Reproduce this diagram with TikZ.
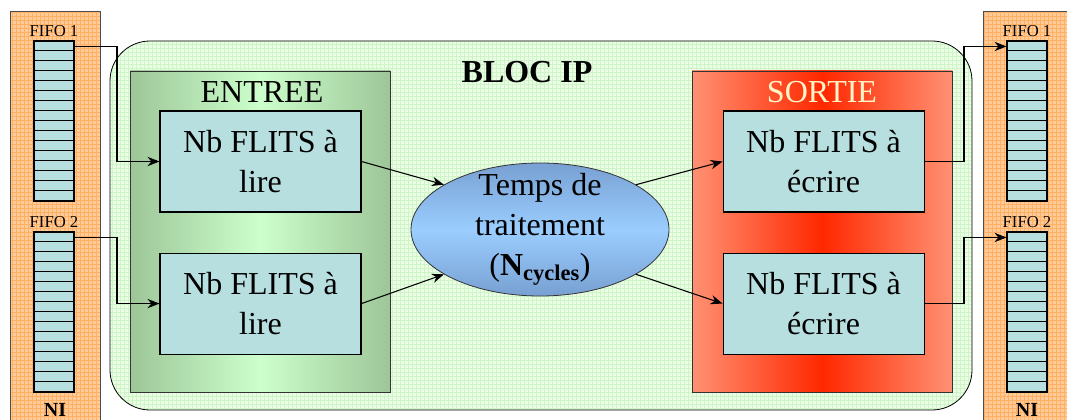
\documentclass[tikz,border=0pt]{standalone}
\usepackage{fontspec}
\setmainfont{Liberation Serif}
\usepackage{tikz}
\usetikzlibrary{shapes.geometric, arrows.meta, positioning, patterns}

\definecolor{niorange}{RGB}{255,204,153}
\definecolor{nigrid}{RGB}{255,176,100}
\definecolor{blocgreen}{RGB}{236,253,230}
\definecolor{blocgrid}{RGB}{205,245,200}
\definecolor{flitblue}{RGB}{184,223,224}
\definecolor{entreedark}{RGB}{158,198,152}
\definecolor{entreelight}{RGB}{204,255,204}
\definecolor{sortieedge}{RGB}{255,145,115}
\definecolor{sortiemid}{RGB}{255,40,0}
\definecolor{sortietext}{RGB}{255,245,200}
\definecolor{proctop}{RGB}{120,160,210}
\definecolor{procmid}{RGB}{155,205,255}

\begin{document}
\begin{tikzpicture}[x=0.75pt, y=-0.75pt,
    nipanel/.style={draw=black!70, preaction={fill=niorange}, pattern=grid, pattern color=nigrid, rectangle, anchor=north west, minimum width=67.5pt, minimum height=330pt, line width=0.6pt},
    fifo/.style={draw=black, fill=flitblue, rectangle, minimum width=30pt, minimum height=120pt, line width=0.8pt, inner sep=0pt},
    fifolabel/.style={inner sep=0pt, font=\fontsize{12.5}{14}\selectfont},
    nilabel/.style={font=\fontsize{15}{17}\selectfont\bfseries},
    panel/.style={draw=black!80, rectangle, minimum width=195pt, minimum height=240.75pt, line width=0.6pt},
    box/.style={draw=black, fill=flitblue, rectangle, minimum width=150.75pt, minimum height=75.75pt, align=center, line width=0.8pt, font=\fontsize{24}{30}\selectfont},
    bigtext/.style={font=\fontsize{24}{30}\selectfont},
    arrow/.style={-{Stealth[length=9pt, width=7pt]}, line width=0.8pt, black}
]
\useasboundingbox (0,0) rectangle (1067,420);

% network interfaces
\node[nipanel] (niL) at (10,11) {};
\node[nipanel, minimum width=100pt] (niR) at (983,11) {};
\node[nilabel] (niLlbl) at (55,410) {NI};
\node[nilabel] (niRlbl) at (1027,410) {NI};

\node[fifo] (fifoL1) at (54,121) {};
\node[fifo] (fifoL2) at (54,312) {};
\node[fifo] (fifoR1) at (1027,121) {};
\node[fifo] (fifoR2) at (1027,312) {};
\foreach \f in {fifoL1, fifoL2, fifoR1, fifoR2} {
  \foreach \i in {1,...,15}
    \draw[line width=0.8pt] ([yshift=-\i*7.5pt]\f.north west) -- ([yshift=-\i*7.5pt]\f.north east);
}
\node[fifolabel, above=2.5pt of fifoL1] {FIFO 1};
\node[fifolabel, above=2.5pt of fifoL2] {FIFO 2};
\node[fifolabel, above=2.5pt of fifoR1] {FIFO 1};
\node[fifolabel, above=2.5pt of fifoR2] {FIFO 2};

% bloc IP
\node[draw=black, preaction={fill=blocgreen}, pattern=grid, pattern color=blocgrid, rectangle, rounded corners=30pt, minimum width=646.5pt, minimum height=276.75pt, line width=0.6pt] (bloc) at (541,225.5) {};
\node[font=\fontsize{24}{30}\selectfont\bfseries] (bloclbl) at (527,72) {BLOC IP};

\node[panel, left color=entreedark, right color=entreedark, middle color=entreelight] (entree) at (260,231.5) {};
\node[bigtext] (entreelbl) at (262,92) {ENTREE};
\node[panel, left color=sortieedge, right color=sortieedge, middle color=sortiemid] (sortie) at (822,231.5) {};
\node[bigtext, text=sortietext] (sortielbl) at (822,92) {SORTIE};

\node[box] (in1) at (260.5,161.5) {Nb FLITS à\\lire};
\node[box, below=30pt of in1] (in2) {Nb FLITS à\\lire};
\node[box, right=270.75pt of in1] (out1) {Nb FLITS à\\écrire};
\node[box, below=30pt of out1] (out2) {Nb FLITS à\\écrire};

\node[ellipse, draw=black!80, top color=proctop, bottom color=proctop, middle color=procmid, minimum width=193.5pt, minimum height=99.75pt, inner xsep=0pt, inner ysep=-15pt, align=center, line width=0.6pt, font=\fontsize{24}{30}\selectfont] (proc) at (540,229.5) {Temps de\\traitement\\(\textbf{N\textsubscript{cycles}})};

% connections
\coordinate (busL) at (117,0);
\coordinate (busR) at (964,0);
\coordinate (srcL1) at ([yshift=-4.5pt]fifoL1.north east);
\coordinate (srcL2) at ([yshift=-4.5pt]fifoL2.north east);
\coordinate (dstR1) at ([yshift=-4.5pt]fifoR1.north west);
\coordinate (dstR2) at ([yshift=-4.5pt]fifoR2.north west);

\draw[arrow] (srcL1) -| (busL |- in1.west) -- (in1.west);
\draw[arrow] (srcL2) -| (busL |- in2.west) -- (in2.west);
\draw[arrow] (in1.east) -- (proc.155);
\draw[arrow] (in2.east) -- (proc.205);
\draw[arrow] (proc.25) -- (out1.west);
\draw[arrow] (proc.-25) -- (out2.west);
\draw[arrow] (out1.east) -| (busR |- dstR1) -- (dstR1);
\draw[arrow] (out2.east) -| (busR |- dstR2) -- (dstR2);
\end{tikzpicture}
\end{document}
